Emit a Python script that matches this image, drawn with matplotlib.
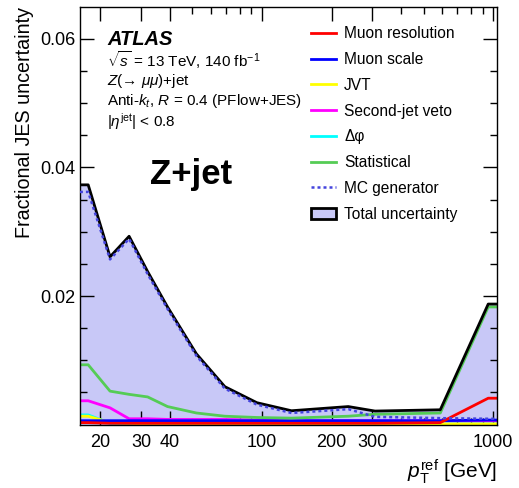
import numpy as np
import matplotlib.pyplot as plt
from matplotlib.patches import Patch
from matplotlib.lines import Line2D

plt.rcParams['font.family'] = ['Liberation Sans', 'DejaVu Sans']
plt.rcParams['mathtext.fontset'] = 'custom'
plt.rcParams['mathtext.rm'] = 'Liberation Sans'
plt.rcParams['mathtext.it'] = 'Liberation Sans:italic'
plt.rcParams['mathtext.bf'] = 'Liberation Sans:bold'

# pT points (GeV), first and last values repeated up to the plot edges
pt = [16.3, 17.7, 22, 26.6, 32, 39, 52, 69, 95, 134, 236, 308, 590, 951, 1040]

total = [0.0373, 0.0373, 0.0261, 0.0293, 0.0238, 0.0183, 0.0110, 0.0059, 0.0034,
         0.00215, 0.0028, 0.0021, 0.0023, 0.01875, 0.01875]
mc_gen = [0.0362, 0.0362, 0.0257, 0.0289, 0.0234, 0.0180, 0.0107, 0.0056, 0.0031,
          0.0018, 0.0024, 0.0012, 0.0010, 0.0009, 0.0009]
stat = [0.0093, 0.0093, 0.0052, 0.0047, 0.0043, 0.0028, 0.0018, 0.0013, 0.0011,
        0.0010, 0.0013, 0.0016, 0.0018, 0.0183, 0.0183]
muon_res = [0.0003, 0.0003, 0.0002, 0.0002, 0.0002, 0.0002, 0.0002, 0.0002, 0.0002,
            0.0002, 0.0002, 0.0002, 0.0003, 0.0041, 0.0041]
muon_scale = [0.0006, 0.0006, 0.0006, 0.0006, 0.0006, 0.0006, 0.0006, 0.0006, 0.0006,
              0.0006, 0.0006, 0.0006, 0.0006, 0.0007, 0.0007]
jvt = [0.0013, 0.0013, 0.0003, 0.0002, 0.0001, 0.0001, 0.0001, 0.0001, 0.0001,
       0.0001, 0.0001, 0.0001, 0.0001, 0.0001, 0.0001]
second_jet = [0.0037, 0.0037, 0.0026, 0.0009, 0.0009, 0.0008, 0.0008, 0.0008, 0.0007,
              0.0006, 0.0006, 0.0006, 0.0006, 0.0006, 0.0006]
dphi = [0.0015, 0.0015, 0.0002, 0.0001, 0.0001, 0.0001, 0.0001, 0.0001, 0.0001,
        0.0001, 0.0001, 0.0001, 0.0001, 0.0001, 0.0001]

xticks = [20, 30, 40, 100, 200, 300, 1000]

fig = plt.figure(figsize=(5.19, 4.88), dpi=100)
ax = fig.add_axes([0.154, 0.130, 0.804, 0.856])

fill_col = '#c8c8f7'
ax.fill_between(pt, 0, total, color=fill_col, lw=0, zorder=1)

lw = 2
ax.plot(pt, dphi, color='cyan', lw=lw, zorder=2)
ax.plot(pt, jvt, color='yellow', lw=lw, zorder=2)
ax.plot(pt, second_jet, color='magenta', lw=lw, zorder=2)
ax.plot(pt, muon_scale, color='blue', lw=lw, zorder=2)
ax.plot(pt, muon_res, color='red', lw=lw, zorder=2)
ax.plot(pt, stat, color='#55cc55', lw=lw, zorder=2)
ax.plot(pt, total, color='black', lw=2, zorder=3)
ax.plot(pt, mc_gen, color='#4444dd', lw=1.8, ls=(0, (1.2, 1.2)), zorder=4)

ax.set_xscale('log')
ax.set_xlim(16.3, 1040)
ax.set_ylim(0, 0.065)
ax.set_xticks(xticks)
ax.set_xticklabels([str(t) for t in xticks])
ax.set_yticks([0.02, 0.04, 0.06])
ax.set_yticklabels(['0.02', '0.04', '0.06'])
ax.set_yticks(np.arange(0.005, 0.065, 0.005), minor=True)
ax.tick_params(which='both', direction='in', top=True, right=True, labelsize=13)
ax.tick_params(which='major', length=10, width=1)
ax.tick_params(which='minor', length=5, width=1)
ax.tick_params(axis='x', pad=7)
for s in ax.spines.values():
    s.set_linewidth(1)

ax.set_ylabel('Fractional JES uncertainty', fontsize=14.2, loc='top')
ax.set_xlabel(r'$p_{\mathrm{T}}^{\mathrm{ref}}$ [GeV]', fontsize=15, loc='right')

# labels
tx = 0.065
ax.text(tx, 0.921, 'ATLAS', transform=ax.transAxes, fontsize=14.5, weight='bold',
        style='italic', va='center')
ax.text(tx, 0.873, r'$\sqrt{s}$ = 13 TeV, 140 fb$^{-1}$', transform=ax.transAxes,
        fontsize=11, va='center')
ax.text(tx, 0.823, r'$Z$(→ $\mu\mu$)+jet', transform=ax.transAxes,
        fontsize=11, va='center')
ax.text(tx, 0.775, r'Anti-$k_t$, $R$ = 0.4 (PFlow+JES)', transform=ax.transAxes,
        fontsize=11, va='center')
ax.text(tx, 0.725, r'$|\eta^{\mathrm{jet}}|$ < 0.8', transform=ax.transAxes,
        fontsize=11, va='center')
ax.text(0.168, 0.598, 'Z+jet', transform=ax.transAxes, fontsize=25,
        weight='bold', va='center')

handles = [
    Line2D([], [], color='red', lw=2),
    Line2D([], [], color='blue', lw=2),
    Line2D([], [], color='yellow', lw=2),
    Line2D([], [], color='magenta', lw=2),
    Line2D([], [], color='cyan', lw=2),
    Line2D([], [], color='#55cc55', lw=2),
    Line2D([], [], color='#4444dd', lw=1.8, ls=(0, (1.2, 1.2))),
    Patch(facecolor=fill_col, edgecolor='black', lw=2),
]
labels = ['Muon resolution', 'Muon scale', 'JVT', 'Second-jet veto', 'Δφ',
          'Statistical', 'MC generator', 'Total uncertainty']
ax.legend(handles, labels, loc='upper left', bbox_to_anchor=(0.54, 0.968),
          frameon=False, fontsize=11.2, handlelength=1.6, handletextpad=0.5,
          labelspacing=0.69, borderaxespad=0)

fig.savefig('out.png', dpi=100)
